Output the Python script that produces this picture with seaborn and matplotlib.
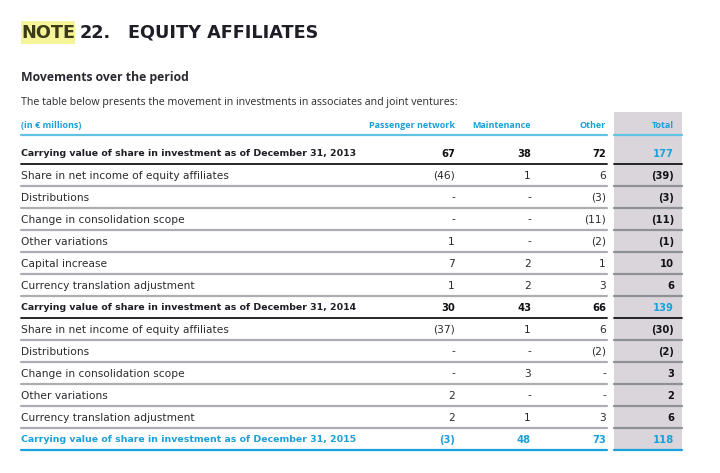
import matplotlib
matplotlib.use("Agg")
import matplotlib.pyplot as plt
import seaborn as sns

sns.set_theme(style="white")
plt.rcParams['font.family'] = ['Open Sans', 'DejaVu Sans']

# ---- data ----
row_labels = [
    "Carrying value of share in investment as of December 31, 2013",
    "Share in net income of equity affiliates",
    "Distributions",
    "Change in consolidation scope",
    "Other variations",
    "Capital increase",
    "Currency translation adjustment",
    "Carrying value of share in investment as of December 31, 2014",
    "Share in net income of equity affiliates",
    "Distributions",
    "Change in consolidation scope",
    "Other variations",
    "Currency translation adjustment",
    "Carrying value of share in investment as of December 31, 2015",
]
row_kind = ["bold", "", "", "", "", "", "", "bold", "", "", "", "", "", "final"]
col_headers = ["Passenger network", "Maintenance", "Other", "Total"]
passenger = [67, -46, None, None, 1, 7, 1, 30, -37, None, None, 2, 2, -3]
maintenance = [38, 1, None, None, None, 2, 2, 43, 1, None, 3, None, 1, 48]
other = [72, 6, -3, -11, -2, 1, 3, 66, 6, -2, None, None, 3, 73]
total = [177, -39, -3, -11, -1, 10, 6, 139, -30, -2, 3, 2, 6, 118]
title_note = "NOTE"
title_num = "22."
title_text = "EQUITY AFFILIATES"
subtitle = "Movements over the period"
intro = "The table below presents the movement in investments in associates and joint ventures:"
unit_label = "(in \u20ac millions)"


def fmt(v):
    if v is None:
        return "-"
    return f"({abs(v)})" if v < 0 else str(v)


BLUE = "#1aa0da"
LBLUE = "#62c2e6"
DARK = "#1e1e26"
TEXT = "#2b2b30"
GRAYBG = "#d9d5db"
SEP = "#adadb3"
SEPT = "#8f8f96"

W, H = 720, 473
fig = plt.figure(figsize=(W / 100, H / 100), dpi=100)
ax = fig.add_axes([0, 0, 1, 1])
ax.set_xlim(0, W)
ax.set_ylim(H, 0)
ax.axis("off")

px = 0.72  # points per pixel at dpi 100
DJ = ["DejaVu Sans"]
OS = ["Open Sans", "DejaVu Sans"]

x_left = 21
x_main_end = 607
x_tot0, x_tot1 = 614, 682
col_right = [455, 531, 606, 674]
header_y = 125
row0 = 153
step = 22

# title
ax.add_patch(plt.Rectangle((21, 21), 54, 23, color="#f7f59a", lw=0, zorder=0))
ax.text(x_left, 33, title_note, fontsize=17.6 * px, fontweight="bold", color="#3b3b1a",
        va="center", ha="left", family=DJ)
ax.text(80, 33, title_num, fontsize=17.6 * px, fontweight="bold", color=DARK,
        va="center", ha="left", family=DJ)
ax.text(128, 33, title_text, fontsize=17.6 * px, fontweight="bold", color=DARK,
        va="center", ha="left", family=DJ)
ax.text(x_left, 78, subtitle, fontsize=12.3 * px, fontweight="bold", color="#2a2a32",
        va="center", ha="left", family=OS)
ax.text(x_left, 102, intro, fontsize=10.6 * px, color=TEXT, va="center", ha="left",
        family=OS)

# total column background
n = len(row_labels)
bottom = row0 + step * (n - 1) + step / 2
ax.add_patch(plt.Rectangle((x_tot0, 112), x_tot1 - x_tot0, bottom - 112,
                           color=GRAYBG, lw=0, zorder=0))

# header
ax.text(x_left, header_y, unit_label, fontsize=9 * px, fontweight="bold", color=BLUE,
        va="center", ha="left", family=OS)
for h, xr in zip(col_headers, col_right):
    ax.text(xr, header_y, h, fontsize=9 * px, fontweight="bold", color=BLUE,
            va="center", ha="right", family=OS)
ax.plot([x_left, x_main_end], [135, 135], color=LBLUE, lw=1.6)
ax.plot([x_tot0, x_tot1], [135, 135], color=LBLUE, lw=1.6)

columns = [passenger, maintenance, other, total]
for i, (lab, kind) in enumerate(zip(row_labels, row_kind)):
    y = row0 + step * i
    if kind == "bold":
        lc, tc, isbold = DARK, "#111116", True
    elif kind == "final":
        lc, tc, isbold = BLUE, BLUE, True
    else:
        lc, tc, isbold = TEXT, TEXT, False
    if isbold:
        ax.text(x_left, y + 0.5, lab, fontsize=9.4 * px, fontweight="bold", color=lc,
                va="center", ha="left", family=DJ)
    else:
        ax.text(x_left, y + 0.5, lab, fontsize=10.6 * px, fontweight="normal", color=lc,
                va="center", ha="left", family=DJ)
    for j, (vals, xr) in enumerate(zip(columns, col_right)):
        if j == 3:
            c = BLUE if kind in ("bold", "final") else "#111116"
            b = True
        else:
            c = tc
            b = isbold
        if b:
            ax.text(xr, y + 0.5, fmt(vals[i]), fontsize=10 * px, fontweight="bold", color=c,
                    va="center", ha="right", family=DJ)
        else:
            ax.text(xr, y + 0.5, fmt(vals[i]), fontsize=10.6 * px, fontweight="normal",
                    color=c, va="center", ha="right", family=DJ)
    ys = y + step / 2
    if kind == "final":
        col_main = col_tot = BLUE
        lwl = 1.6
    elif kind == "bold":
        col_main = col_tot = "#15151a"
        lwl = 1.3
    else:
        col_main, col_tot = SEP, SEPT
        lwl = 1.6
    ax.plot([x_left, x_main_end], [ys, ys], color=col_main, lw=lwl)
    ax.plot([x_tot0, x_tot1], [ys, ys], color=col_tot, lw=lwl)

fig.savefig("out.png", dpi=100)
